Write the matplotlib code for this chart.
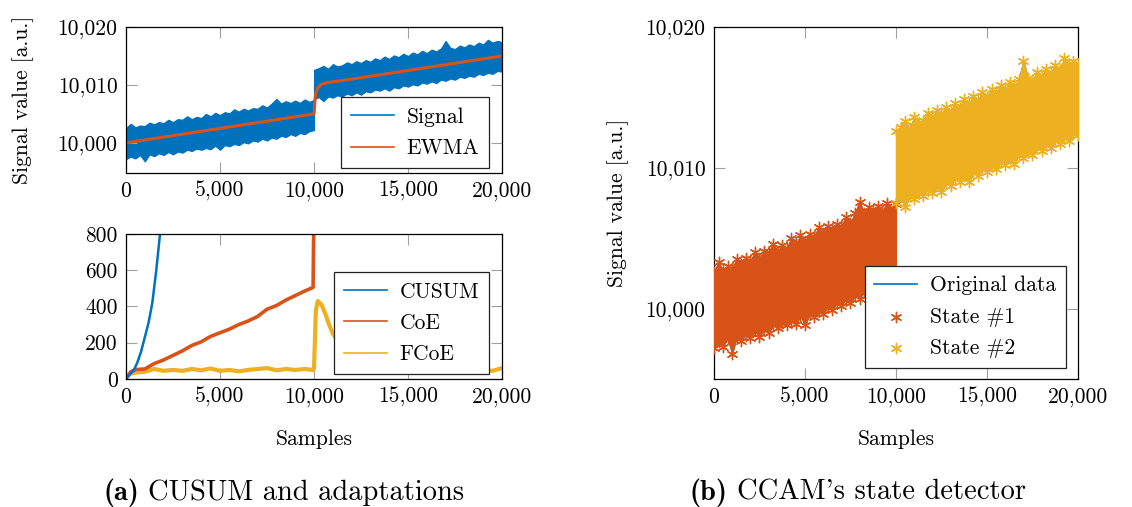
import matplotlib
matplotlib.use("Agg")
import matplotlib.pyplot as plt
from matplotlib.ticker import FuncFormatter
from matplotlib.lines import Line2D

# colours (MATLAB default order)
BLUE = "#0072BD"
ORANGE = "#D95319"
YELLOW = "#EDB120"

# --- signal envelope (lower / upper edge of the noisy band) ---
seg1_x = [0, 250, 500, 750, 1000, 1250, 1500, 1750, 2000, 2250, 2500, 2750, 3000,
          3250, 3500, 3750, 4000, 4250, 4500, 4750, 5000, 5250, 5500, 5750, 6000,
          6250, 6500, 6750, 7000, 7250, 7500, 7750, 8000, 8250, 8500, 8750, 9000,
          9250, 9500, 9750, 9999]
seg1_hi = [10002.6, 10003.3, 10002.7, 10003.0, 10002.9, 10003.5, 10003.2, 10003.6,
           10003.4, 10004.0, 10003.6, 10004.1, 10004.0, 10004.6, 10004.1, 10004.5,
           10004.3, 10005.0, 10004.6, 10005.2, 10004.8, 10005.3, 10005.1, 10005.8,
           10005.4, 10005.9, 10005.6, 10006.0, 10005.9, 10006.5, 10006.1, 10006.8,
           10007.6, 10006.8, 10007.2, 10006.9, 10007.3, 10006.9, 10007.5, 10007.1,
           10007.4]
seg1_lo = [9997.2, 9997.6, 9997.3, 9997.9, 9996.8, 9998.0, 9997.7, 9998.2,
           9997.9, 9998.4, 9998.0, 9998.5, 9998.3, 9998.8, 9998.6, 9999.0,
           9998.8, 9999.1, 9998.9, 9999.5, 9998.8, 9999.6, 9999.4, 9999.8,
           9999.6, 10000.1, 9999.9, 10000.4, 10000.2, 10000.7, 10000.4, 10000.9,
           10000.7, 10001.2, 10001.0, 10001.5, 10001.2, 10001.7, 10001.5, 10002.0,
           10002.2]

seg2_x = [10000, 10250, 10500, 10750, 11000, 11250, 11500, 11750, 12000, 12250,
          12500, 12750, 13000, 13250, 13500, 13750, 14000, 14250, 14500, 14750,
          15000, 15250, 15500, 15750, 16000, 16250, 16500, 16750, 17000, 17250,
          17500, 17750, 18000, 18250, 18500, 18750, 19000, 19250, 19500, 19750, 20000]
seg2_hi = [10012.6, 10012.9, 10013.3, 10012.8, 10013.6, 10013.2, 10013.4, 10013.9,
           10013.6, 10014.1, 10013.8, 10014.3, 10014.0, 10014.6, 10014.3, 10014.9,
           10014.5, 10015.1, 10014.8, 10015.4, 10015.0, 10015.6, 10015.3, 10015.9,
           10015.5, 10016.1, 10015.8, 10016.3, 10017.6, 10016.4, 10016.2, 10016.8,
           10016.5, 10017.0, 10016.7, 10017.3, 10017.0, 10017.8, 10017.3, 10017.6,
           10017.4]
seg2_lo = [10007.5, 10007.9, 10007.2, 10008.0, 10007.8, 10008.2, 10008.0, 10008.5,
           10008.2, 10008.7, 10008.3, 10008.9, 10008.7, 10009.2, 10009.0, 10009.4,
           10009.0, 10009.6, 10009.4, 10009.9, 10009.7, 10010.1, 10009.9, 10010.4,
           10010.2, 10010.6, 10010.3, 10010.9, 10010.7, 10011.1, 10010.9, 10011.4,
           10011.2, 10011.6, 10011.4, 10011.9, 10011.7, 10012.1, 10011.9, 10012.4,
           10012.3]

ewma_x = [0, 2000, 4000, 6000, 8000, 9990, 10010, 10050, 10100, 10200, 10400,
          10700, 12000, 14000, 16000, 18000, 20000]
ewma_y = [10000.0, 10001.0, 10002.0, 10003.0, 10004.0, 10005.0, 10005.2, 10007.5,
          10008.6, 10009.5, 10010.1, 10010.4, 10011.0, 10012.0, 10013.0, 10014.0, 10015.0]

# --- detector statistics ---
cusum_x = [0, 200, 400, 600, 800, 1000, 1200, 1400, 1600, 1700, 1810, 1900]
cusum_y = [0, 25, 45, 90, 150, 230, 310, 420, 590, 690, 800, 900]

coe_x = [0, 250, 500, 1000, 1500, 2000, 2500, 3000, 3500, 4000, 4500, 5000, 5500,
         6000, 6500, 7000, 7500, 8000, 8500, 9000, 9500, 9950, 10000, 20000]
coe_y = [0, 40, 52, 55, 85, 105, 130, 155, 185, 205, 235, 255, 275,
         300, 320, 345, 385, 405, 435, 460, 485, 505, 1000, 1500]

fcoe_x = [0, 250, 500, 1000, 1500, 2000, 2500, 3000, 3500, 4000, 4500, 5000, 5500,
          6000, 6500, 7000, 7500, 8000, 8500, 9000, 9500, 9950, 10000, 10100, 10200,
          10400, 10600, 10800, 11000, 11500, 12000, 13000, 14000, 15000, 16000, 17000,
          18000, 19000, 19500, 20000]
fcoe_y = [10, 30, 35, 40, 55, 45, 50, 45, 55, 48, 58, 45, 50,
          42, 50, 55, 60, 48, 55, 50, 55, 50, 60, 380, 430,
          410, 360, 300, 250, 170, 110, 70, 55, 50, 45, 50,
          48, 50, 45, 60]

x_ticks = [0, 5000, 10000, 15000, 20000]

plt.rcParams["font.family"] = "cmr10"
plt.rcParams["mathtext.fontset"] = "cm"
plt.rcParams["axes.unicode_minus"] = False
plt.rcParams["axes.linewidth"] = 0.9

FS = 15.5
fmt = FuncFormatter(lambda v, p: "{:,.0f}".format(v))

fig = plt.figure(figsize=(11.32, 5.07), dpi=100)
ax1 = fig.add_axes([0.1113, 0.6588, 0.3322, 0.2880])
ax2 = fig.add_axes([0.1113, 0.2525, 0.3322, 0.2860])
ax3 = fig.add_axes([0.6307, 0.2525, 0.3216, 0.6943])


def style(ax):
    ax.tick_params(direction="in", length=8, width=0.8, color="#a0a0a0",
                   top=True, right=True, labelsize=FS, pad=6)
    ax.set_xlim(0, 20000)
    ax.set_xticks(x_ticks)
    ax.xaxis.set_major_formatter(fmt)
    ax.yaxis.set_major_formatter(fmt)


def legend(ax, handles, labels, x, y):
    leg = ax.legend(handles, labels, loc="lower right", bbox_to_anchor=(x, y),
                    borderaxespad=0, fontsize=FS, fancybox=False, framealpha=1,
                    edgecolor="#222222", handlelength=2.0, handletextpad=0.6,
                    labelspacing=0.55, borderpad=0.45, scatterpoints=1)
    leg.get_frame().set_linewidth(0.9)


# (a) top: signal and EWMA
sig_x = seg1_x + seg2_x
sig_hi = seg1_hi + seg2_hi
sig_lo = seg1_lo + seg2_lo
ax1.fill_between(sig_x, sig_lo, sig_hi, color=BLUE, lw=0.8)
ax1.plot(ewma_x, ewma_y, color=ORANGE, lw=2.2)
style(ax1)
ax1.set_ylim(9994.8, 10020)
ax1.set_yticks([10000, 10010, 10020])
ax1.set_ylabel("Signal value [a.u.]", fontsize=FS, labelpad=17)
legend(ax1, [Line2D([], [], color=BLUE, lw=1.2), Line2D([], [], color=ORANGE, lw=1.2)],
       ["Signal", "EWMA"], 0.965, 0.036)

# (a) bottom: CUSUM, CoE, FCoE
ax2.plot(fcoe_x, fcoe_y, color=YELLOW, lw=3)
ax2.plot(coe_x, coe_y, color=ORANGE, lw=2.6)
ax2.plot(cusum_x, cusum_y, color=BLUE, lw=1.8)
style(ax2)
ax2.set_ylim(0, 800)
ax2.set_yticks([0, 200, 400, 600, 800])
ax2.set_xlabel("Samples", fontsize=FS, labelpad=16)
legend(ax2, [Line2D([], [], color=BLUE, lw=1.2), Line2D([], [], color=ORANGE, lw=1.2),
             Line2D([], [], color=YELLOW, lw=1.2)],
       ["CUSUM", "CoE", "FCoE"], 0.965, 0.034)

# (b) state detector
star = (6, 2, 0)
ax3.fill_between(sig_x, sig_lo, sig_hi, color=BLUE, lw=0.8)
ax3.fill_between(seg1_x, seg1_lo, seg1_hi, color=ORANGE, lw=0.8, zorder=3)
s1 = ax3.scatter(seg1_x + seg1_x, seg1_hi + seg1_lo, marker=star, s=55,
                 color=ORANGE, linewidths=1.0, zorder=3)
ax3.fill_between(seg2_x, seg2_lo, seg2_hi, color=YELLOW, lw=0.8, zorder=4)
s2 = ax3.scatter(seg2_x + seg2_x, seg2_hi + seg2_lo, marker=star, s=55,
                 color=YELLOW, linewidths=1.0, zorder=4)
style(ax3)
ax3.set_ylim(9995, 10020)
ax3.set_yticks([10000, 10010, 10020])
ax3.set_ylabel("Signal value [a.u.]", fontsize=FS, labelpad=12)
ax3.set_xlabel("Samples", fontsize=FS, labelpad=16)
legend(ax3, [Line2D([], [], color=BLUE, lw=1.2), s1, s2],
       ["Original data", "State #1", "State #2"], 0.967, 0.032)

# captions: bold tag followed by regular text
CAP = 20.5
renderer = fig.canvas.get_renderer()
for x0, tag, text in [(103, "(a)", "CUSUM and adaptations"),
                      (690, "(b)", "CCAM's state detector")]:
    t = fig.text(x0 / 1132, 1 - 500 / 507, tag, fontsize=CAP, family="cmb10")
    right = t.get_window_extent(renderer).x1
    fig.text((right + 9) / 1132, 1 - 500 / 507, text, fontsize=CAP)

fig.savefig("out.png", dpi=100)
